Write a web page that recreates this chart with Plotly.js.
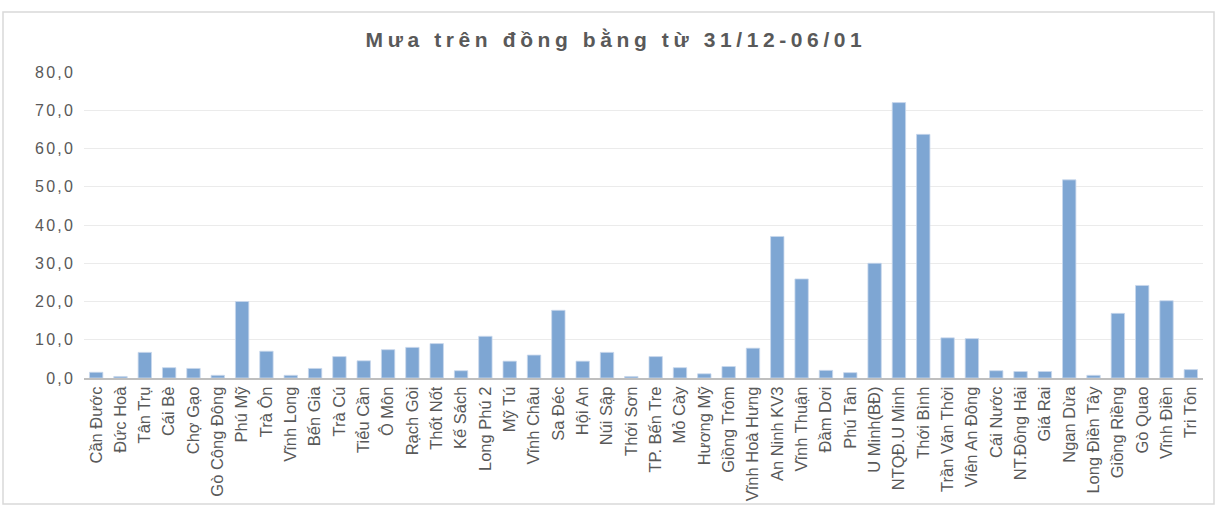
<!DOCTYPE html>
<html>
<head>
<meta charset="utf-8">
<script src="https://cdn.plot.ly/plotly-3.0.1.min.js"></script>
<style>
  html, body { margin: 0; padding: 0; background: #ffffff; }
  #chart { width: 1215px; height: 507px; }
  .gtitle { letter-spacing: 4.6px; }
  .ytick text { letter-spacing: 2.2px; }
</style>
</head>
<body>
<div id="chart"></div>
<script>
const stations = [
  "Cần Đước", "Đức Hoà", "Tân Trụ", "Cái Bè", "Chợ Gạo", "Gò Công Đông",
  "Phú Mỹ", "Trà Ôn", "Vĩnh Long", "Bến Gia", "Trà Cú", "Tiểu Cần",
  "Ô Môn", "Rạch Gòi", "Thốt Nốt", "Kế Sách", "Long Phú 2", "Mỹ Tú",
  "Vĩnh Châu", "Sa Đéc", "Hội An", "Núi Sập", "Thới Sơn", "TP. Bến Tre",
  "Mỏ Cày", "Hương Mỹ", "Giồng Trôm", "Vĩnh Hoà Hưng", "An Ninh KV3", "Vĩnh Thuận",
  "Đầm Dơi", "Phú Tân", "U Minh(BĐ)", "NTQĐ.U Minh", "Thới Bình", "Trần Văn Thời",
  "Viên An Đông", "Cái Nước", "NT.Đông Hải", "Giá Rai", "Ngan Dừa", "Long Điền Tây",
  "Giồng Riềng", "Gò Quao", "Vĩnh Điền", "Tri Tôn"
];
const rainfall = [
  1.5, 0.4, 6.7, 2.7, 2.5, 0.7,
  20.0, 7.0, 0.7, 2.5, 5.6, 4.5,
  7.4, 8.0, 9.0, 1.9, 10.9, 4.4,
  6.0, 17.7, 4.4, 6.7, 0.4, 5.6,
  2.7, 1.1, 3.0, 7.8, 37.0, 25.9,
  2.0, 1.4, 30.0, 72.0, 63.7, 10.5,
  10.3, 1.9, 1.7, 1.7, 51.8, 0.7,
  16.9, 24.2, 20.2, 2.2
];
const chartTitle = "Mưa trên đồng bằng từ 31/12-06/01";

const W = 1215, H = 507;
const m = {l: 84, r: 12, t: 72, b: 129};
const pw = W - m.l - m.r, ph = H - m.t - m.b;
const px = v => (v - m.l) / pw;
const py = v => (H - m.b - v) / ph;

const trace = {
  type: 'bar',
  x: stations,
  y: rainfall,
  marker: {color: '#7ea6d3', line: {color: '#c9d8ec', width: 0.8}},
  hoverinfo: 'x+y'
};

const layout = {
  width: W, height: H,
  margin: m,
  paper_bgcolor: '#ffffff',
  plot_bgcolor: '#ffffff',
  separators: ',.',
  bargap: 0.45,
  showlegend: false,
  font: {family: '"Liberation Sans", Arial, sans-serif', color: '#595959'},
  title: {
    text: chartTitle,
    font: {family: '"Liberation Sans", Arial, sans-serif', size: 21, color: '#595959', weight: 'bold'},
    x: 616 / W, xref: 'container', xanchor: 'center',
    y: 1 - 40 / H, yref: 'container', yanchor: 'middle'
  },
  xaxis: {
    type: 'category',
    tickangle: -90,
    tickfont: {size: 16.5, color: '#595959'},
    showline: true, linecolor: '#bfbfbf', linewidth: 2,
    showgrid: false, ticks: '', ticklen: 0,
    automargin: false
  },
  yaxis: {
    range: [0, 80], dtick: 10, tick0: 0,
    tickformat: '.1f',
    tickfont: {size: 16, color: '#595959'},
    showgrid: true, gridcolor: '#ebebeb', gridwidth: 1,
    zeroline: false, showline: false, ticks: '',
    ticklabelstandoff: 8,
    automargin: false
  },
  shapes: [{
    type: 'rect', xref: 'paper', yref: 'paper',
    x0: px(3), x1: px(1214), y0: py(504), y1: py(12),
    line: {color: '#d9d9d9', width: 1.5}, fillcolor: 'rgba(0,0,0,0)', layer: 'below'
  }]
};

Plotly.newPlot('chart', [trace], layout, {displayModeBar: false, staticPlot: true});
</script>
</body>
</html>
